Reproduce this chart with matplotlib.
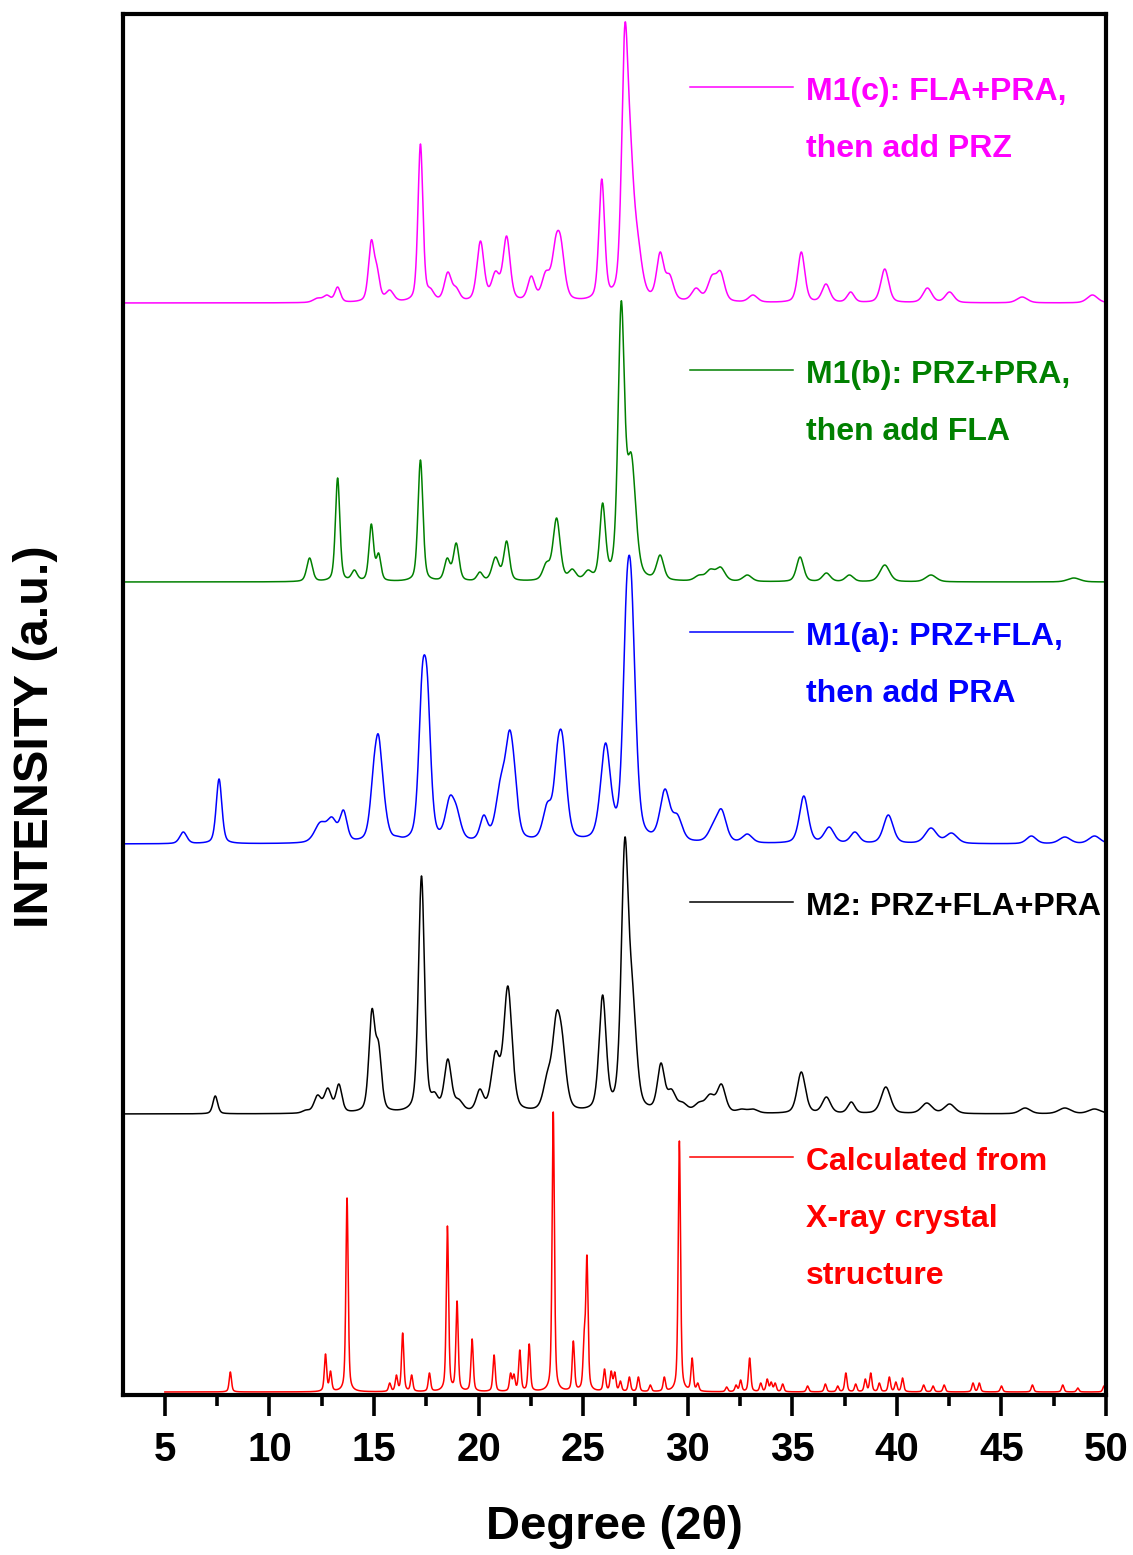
import numpy as np
import matplotlib
matplotlib.use("Agg")
import matplotlib.pyplot as plt

plt.rcParams['font.family'] = ['Liberation Sans', 'DejaVu Sans']
plt.rcParams['font.weight'] = 'bold'

# ---- peak tables: 2theta, apex height (a.u.), fwhm ----
# Calculated from X-ray crystal structure
red_pos = [8.13, 12.68, 12.92, 13.71, 15.75, 16.07, 16.37, 16.80, 17.65, 18.51, 18.97,
           19.69, 20.74, 21.53, 21.69, 21.97, 22.42, 23.57, 24.53, 25.05, 25.18, 26.02,
           26.34, 26.51, 26.78, 27.21, 27.64, 28.21, 28.88, 29.60, 30.21, 30.48, 31.86,
           32.31, 32.53, 32.96, 33.49, 33.80, 33.99, 34.18, 34.54, 35.73, 36.58, 37.17,
           37.56, 38.03, 38.49, 38.75, 39.16, 39.64, 39.95, 40.27, 41.28, 41.73, 42.26,
           43.64, 43.94, 45.00, 46.48, 47.93, 48.65, 49.90]
red_h = [20, 38, 21, 194, 9, 17, 59, 17, 19, 166, 91,
         53, 37, 19, 18, 42, 48, 280, 51, 62, 137, 23,
         21, 20, 11, 15, 15, 7, 15, 251, 34, 9, 5,
         7, 12, 34, 9, 13, 10, 9, 8, 6, 8, 6,
         19, 8, 13, 19, 9, 15, 10, 14, 7, 6, 7,
         9, 9, 6, 7, 7, 4, 6]

# M2: PRZ+FLA+PRA
black_pos = [7.41, 11.74, 12.30, 12.79, 13.32, 14.90, 15.22, 15.78, 16.34, 17.27, 17.90,
             18.53, 19.05, 20.06, 20.81, 21.40, 23.29, 23.72, 24.00, 25.93, 26.99, 27.35,
             28.72, 29.22, 29.75, 30.54, 31.07, 31.61, 32.58, 33.12, 35.43, 36.63, 37.82,
             39.47, 41.43, 42.52, 46.13, 48.03, 49.45]
black_h = [18, 4, 19, 26, 30, 105, 72, 4, 3, 238, 22,
           55, 15, 25, 63, 128, 43, 102, 82, 119, 276, 137,
           51, 25, 12, 12, 20, 30, 5, 5, 42, 17, 12,
           27, 11, 10, 6, 6, 5]
black_w = [0.27, 0.4, 0.4, 0.4, 0.34, 0.34, 0.34, 0.4, 0.4, 0.34, 0.4,
           0.4, 0.47, 0.4, 0.47, 0.47, 0.47, 0.47, 0.47, 0.4, 0.4, 0.47,
           0.4, 0.47, 0.54, 0.54, 0.54, 0.47, 0.54, 0.54, 0.47, 0.47, 0.4,
           0.54, 0.6, 0.6, 0.6, 0.7, 0.7]

# M1(a): PRZ+FLA, then add PRA
blue_pos = [5.88, 7.59, 12.43, 12.99, 13.54, 14.98, 15.22, 15.49, 16.10, 17.30, 17.55,
            18.62, 18.95, 20.25, 21.05, 21.48, 21.72, 23.29, 23.77, 24.01, 26.07, 27.06,
            27.30, 28.91, 29.50, 31.20, 31.61, 32.85, 35.55, 36.76, 37.99, 39.59, 41.63,
            42.61, 46.43, 48.03, 49.45]
blue_h = [12, 65, 22, 27, 34, 82, 109, 51, 8, 175, 170,
          48, 38, 29, 67, 114, 80, 42, 101, 109, 101, 254,
          271, 55, 30, 21, 35, 10, 48, 17, 12, 29, 16,
          11, 8, 7, 8]
blue_w = [0.4, 0.32, 0.65, 0.55, 0.4, 0.42, 0.42, 0.42, 0.42, 0.4, 0.4,
          0.5, 0.5, 0.42, 0.55, 0.5, 0.42, 0.5, 0.42, 0.5, 0.56, 0.42,
          0.5, 0.55, 0.55, 0.55, 0.55, 0.55, 0.5, 0.55, 0.5, 0.55, 0.65,
          0.65, 0.55, 0.65, 0.65]

# M1(b): PRZ+PRA, then add FLA
green_pos = [11.92, 13.26, 14.06, 14.87, 15.22, 17.22, 18.50, 18.93, 20.06, 20.81, 21.34,
             23.24, 23.73, 24.48, 25.23, 25.93, 26.82, 27.30, 28.68, 30.54, 31.08, 31.57,
             32.85, 35.37, 36.63, 37.73, 39.42, 41.63, 48.46]
green_h = [24, 104, 12, 58, 29, 122, 24, 39, 10, 25, 41,
           20, 64, 13, 12, 79, 281, 129, 27, 7, 13, 15,
           7, 25, 9, 7, 17, 7, 4]
green_w = [0.32, 0.25, 0.32, 0.26, 0.26, 0.28, 0.32, 0.32, 0.32, 0.4, 0.32,
           0.4, 0.4, 0.4, 0.4, 0.32, 0.36, 0.5, 0.4, 0.5, 0.5, 0.5,
           0.5, 0.4, 0.45, 0.45, 0.55, 0.6, 0.7]

# M1(c): FLA+PRA, then add PRZ
pink_pos = [12.30, 12.75, 13.26, 14.87, 15.14, 15.75, 17.22, 17.70, 18.53, 18.93, 20.09,
            20.81, 21.34, 22.52, 23.21, 23.69, 23.93, 25.89, 26.99, 27.26, 27.62, 28.68,
            29.13, 30.40, 31.16, 31.57, 33.12, 35.43, 36.61, 37.79, 39.42, 41.46, 42.52,
            45.99, 49.35]
pink_h = [5, 8, 16, 63, 38, 13, 159, 15, 31, 16, 62,
          32, 67, 27, 32, 67, 66, 124, 278, 177, 70, 51,
          29, 15, 28, 32, 8, 51, 19, 11, 34, 15, 11,
          6, 8]
pink_w = [0.5, 0.4, 0.32, 0.32, 0.32, 0.45, 0.28, 0.4, 0.4, 0.4, 0.4,
          0.45, 0.4, 0.4, 0.45, 0.45, 0.45, 0.32, 0.36, 0.45, 0.5, 0.4,
          0.45, 0.5, 0.5, 0.45, 0.5, 0.4, 0.45, 0.4, 0.45, 0.5, 0.5,
          0.6, 0.6]

# vertical offsets of the stacked patterns
offsets = {'red': 3, 'black': 281, 'blue': 551, 'green': 813, 'pink': 1092}


def pv(x, c, w, eta):
    g = np.exp(-4 * np.log(2) * ((x - c) / w) ** 2)
    l = 1.0 / (1.0 + 4 * ((x - c) / w) ** 2)
    return eta * l + (1 - eta) * g


def pattern(x, pos, h, w, eta):
    pos = np.asarray(pos, float)
    w = np.broadcast_to(np.asarray(w, float), pos.shape)
    # scale each peak so the summed curve passes through the read apex heights
    A = np.array([[pv(p, c, ww, eta) for c, ww in zip(pos, w)] for p in pos])
    amp = np.clip(np.linalg.lstsq(A, np.asarray(h, float), rcond=None)[0], 0, None)
    y = np.zeros_like(x)
    for c, ww, a in zip(pos, w, amp):
        y += a * pv(x, c, ww, eta)
    return y


x_exp = np.arange(3.0, 50.0001, 0.01)
x_red = np.arange(5.0, 50.0001, 0.005)

fig = plt.figure(figsize=(11.33, 15.55), dpi=100)
ax = fig.add_axes([0.1086, 0.1029, 0.8676, 0.8881])

traces = [
    ('pink', '#FF00FF', x_exp, pattern(x_exp, pink_pos, pink_h, pink_w, 0.4)),
    ('green', '#008000', x_exp, pattern(x_exp, green_pos, green_h, green_w, 0.4)),
    ('blue', '#0000FF', x_exp, pattern(x_exp, blue_pos, blue_h, blue_w, 0.4)),
    ('black', '#000000', x_exp, pattern(x_exp, black_pos, black_h, black_w, 0.4)),
    ('red', '#FF0000', x_red, pattern(x_red, red_pos, red_h, 0.13, 0.5)),
]
for name, col, xx, yy in traces:
    ax.plot(xx, yy + offsets[name], color=col, lw=1.1)

ax.set_xlim(3, 50)
ax.set_ylim(0, 1381)
ax.set_yticks([])
ax.set_xticks(range(5, 51, 5))
ax.set_xticks(np.arange(7.5, 50, 5), minor=True)
ax.tick_params(axis='x', which='major', direction='out', length=15, width=2.6,
               labelsize=29, pad=11)
ax.tick_params(axis='x', which='minor', direction='out', length=8, width=2.6)
for sp in ax.spines.values():
    sp.set_linewidth(3)

ax.set_xlabel('Degree (2θ)', fontsize=34, fontweight='bold', labelpad=26)
fig.text(0.031, 0.526, 'INTENSITY (a.u.)', rotation=90, fontsize=35,
         fontweight='bold', ha='center', va='center')

# legend-like labels
labels = [
    ('#FF00FF', 0.947, ['M1(c): FLA+PRA,', 'then add PRZ']),
    ('#008000', 0.7422, ['M1(b): PRZ+PRA,', 'then add FLA']),
    ('#0000FF', 0.5525, ['M1(a): PRZ+FLA,', 'then add PRA']),
    ('#000000', 0.357, ['M2: PRZ+FLA+PRA']),
    ('#FF0000', 0.1723, ['Calculated from', 'X-ray crystal', 'structure']),
]
for col, yl, lines in labels:
    ax.plot([0.577, 0.682], [yl, yl], color=col, lw=1.1, transform=ax.transAxes)
    for i, t in enumerate(lines):
        ax.text(0.695, yl - 0.0035 - i * 0.0413, t, color=col, fontsize=23,
                fontweight='bold', ha='left', va='center', transform=ax.transAxes)

fig.savefig('out.png', dpi=100)
